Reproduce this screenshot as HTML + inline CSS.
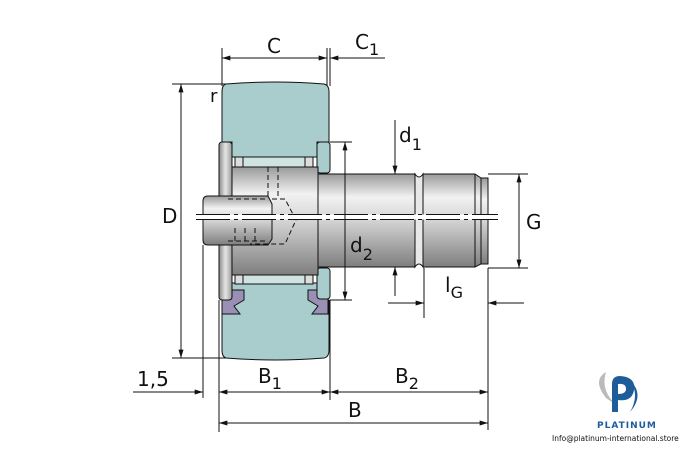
<!DOCTYPE html>
<html><head><meta charset="utf-8"><style>
html,body{margin:0;padding:0;background:#fff;}
svg{display:block;}
text{font-family:"DejaVu Sans","Liberation Sans",sans-serif;fill:#111;}
</style></head><body>
<svg width="692" height="450" viewBox="0 0 692 450" xmlns="http://www.w3.org/2000/svg">
<defs>
<linearGradient id="cyl" x1="0" y1="0" x2="0" y2="1">
<stop offset="0" stop-color="#9a9a9a"/><stop offset="0.25" stop-color="#f2f2f2"/><stop offset="0.5" stop-color="#d4d4d4"/><stop offset="1" stop-color="#7e7e7e"/>
</linearGradient>
<linearGradient id="flg" x1="0" y1="0" x2="1" y2="0">
<stop offset="0" stop-color="#8a8a8a"/><stop offset="0.5" stop-color="#e6e6e6"/><stop offset="1" stop-color="#9a9a9a"/>
</linearGradient>
<marker id="a" viewBox="0 0 10 6" refX="10" refY="3" markerWidth="14" markerHeight="5" markerUnits="userSpaceOnUse" orient="auto-start-reverse"><path d="M0,0L10,3L0,6z" fill="#111"/></marker>
</defs>
<g stroke="#111" stroke-width="1" fill="none">
<path d="M226,84 Q275,80 324,84 Q329,85 329,92 L329,142 L317,142 L317,157 L232,157 L232,142 L222,142 L222,92 Q222,85 226,84Z" fill="#a8cdcc"/>
<path d="M226,358 Q275,362 324,358 Q329,357 329,350 L329,300 L317,300 L317,283 L232,283 L232,300 L222,300 L222,350 Q222,357 226,358Z" fill="#a8cdcc"/>
<rect x="243" y="157" width="62" height="10" fill="#cfe3e2"/>
<rect x="243" y="275" width="62" height="9" fill="#cfe3e2"/>
<rect x="235" y="157" width="8" height="10" fill="#ddd"/><rect x="305" y="157" width="8" height="10" fill="#ddd"/>
<rect x="235" y="275" width="8" height="9" fill="#ddd"/><rect x="305" y="275" width="8" height="9" fill="#ddd"/>
<path d="M222,290 L244,290 L244,300 L234,306 L240,314 L222,314Z" fill="#9a8fb5"/>
<path d="M328,290 L308,290 L308,300 L318,306 L312,314 L328,314Z" fill="#9a8fb5"/>
<rect x="317" y="142" width="13" height="31" rx="3" fill="#a8cdcc"/>
<rect x="317" y="268" width="13" height="31" rx="3" fill="#a8cdcc"/>
<rect x="232" y="167" width="86" height="108" fill="url(#cyl)"/>
<rect x="219" y="142" width="13" height="158" rx="3" fill="url(#flg)"/>
<rect x="318" y="174" width="97" height="93" fill="url(#cyl)"/>
<path d="M415,174 Q419,180 423,174 L423,267 Q419,261 415,267Z" fill="#e8e8e8"/>
<path d="M423,174 L475,174 L481,178 L481,264 L475,267 L423,267Z" fill="url(#cyl)"/>
<rect x="481" y="178" width="7" height="86" fill="url(#cyl)"/>
<line x1="475" y1="174" x2="475" y2="267"/>
<path d="M208,196 L268,196 L272,204 L272,239 L268,245 L208,245 Q203,245 203,240 L203,201 Q203,196 208,196Z" fill="url(#cyl)"/>
<g stroke-dasharray="5,3"><path d="M228,199 L268,199 M272,199 L285,199 L296,220 L285,244 L250,244"/><path d="M268,167 L268,198 M278,167 L278,198"/><path d="M228,241 L268,241 M235,228 L235,241 M245,228 L245,241 M255,228 L255,241"/></g>
<line x1="196" y1="217" x2="498" y2="217" stroke="#fff" stroke-width="5"/>
<line x1="196" y1="214.5" x2="498" y2="214.5" stroke-dasharray="34,4,4,4"/>
<line x1="196" y1="219.5" x2="498" y2="219.5" stroke-dasharray="34,4,4,4"/>
</g>
<g stroke="#111" stroke-width="1" fill="none">
<line x1="222" y1="48" x2="222" y2="86"/><line x1="327" y1="48" x2="327" y2="86"/><line x1="330" y1="48" x2="330" y2="86"/>
<line x1="172" y1="84" x2="226" y2="84"/><line x1="172" y1="358" x2="226" y2="358"/>
<line x1="330" y1="142" x2="352" y2="142"/><line x1="330" y1="300" x2="352" y2="300"/>
<line x1="488" y1="174" x2="528" y2="174"/><line x1="488" y1="268" x2="528" y2="268"/>
<line x1="424" y1="268" x2="424" y2="318"/><line x1="488" y1="268" x2="488" y2="430"/>
<line x1="203" y1="245" x2="203" y2="398"/><line x1="219" y1="300" x2="219" y2="432"/><line x1="330" y1="300" x2="330" y2="400"/>
<line x1="222" y1="58" x2="327" y2="58" marker-start="url(#a)" marker-end="url(#a)"/>
<line x1="385" y1="58" x2="330" y2="58" marker-end="url(#a)"/>
<line x1="181" y1="84" x2="181" y2="358" marker-start="url(#a)" marker-end="url(#a)"/>
<line x1="345" y1="142" x2="345" y2="300" marker-start="url(#a)" marker-end="url(#a)"/>
<line x1="395" y1="120" x2="395" y2="174" marker-end="url(#a)"/>
<line x1="395" y1="296" x2="395" y2="267" marker-end="url(#a)"/>
<line x1="519" y1="174" x2="519" y2="268" marker-start="url(#a)" marker-end="url(#a)"/>
<line x1="388" y1="303" x2="424" y2="303" marker-end="url(#a)"/>
<line x1="524" y1="303" x2="488" y2="303" marker-end="url(#a)"/>
<line x1="133" y1="392" x2="203" y2="392" marker-end="url(#a)"/>
<line x1="219" y1="392" x2="330" y2="392" marker-start="url(#a)" marker-end="url(#a)"/>
<line x1="330" y1="392" x2="488" y2="392" marker-start="url(#a)" marker-end="url(#a)"/>
<line x1="219" y1="423" x2="488" y2="423" marker-start="url(#a)" marker-end="url(#a)"/>
</g>
<g font-size="20">
<text x="267" y="53">C</text>
<text x="355" y="49">C<tspan font-size="16" dy="6">1</tspan></text>
<text x="210" y="102" font-size="18">r</text>
<text x="162" y="223">D</text>
<text x="399" y="142">d<tspan font-size="16" dy="8">1</tspan></text>
<text x="350" y="252">d<tspan font-size="16" dy="8">2</tspan></text>
<text x="526" y="229">G</text>
<text x="445" y="292">l<tspan font-size="16" dy="6">G</tspan></text>
<text x="137" y="386">1,5</text>
<text x="258" y="383">B<tspan font-size="16" dy="6">1</tspan></text>
<text x="395" y="383">B<tspan font-size="16" dy="6">2</tspan></text>
<text x="348" y="417">B</text>
</g>
<g>
<path d="M606,398 Q592,380 606,372 Q600,392 618,406Z" fill="#bbb"/>
<path d="M630,380 Q645,395 630,412 Q640,395 630,380Z" fill="#1e5d9a"/>
<path d="M612,412 L612,384 Q612,376 620,376 Q636,377 634,390 Q632,402 618,400 L618,412Z M618,384 L618,394 Q626,394 626,389 Q626,383 618,384Z" fill="#1e5d9a"/>
<text x="597" y="428" font-size="9" font-weight="bold" style="fill:#1e5d9a;letter-spacing:1px">PLATINUM</text>
<text x="552" y="441" font-size="7.5" font-family="Liberation Sans">Info@platinum-international.store</text>
</g>
</svg>
</body></html>
